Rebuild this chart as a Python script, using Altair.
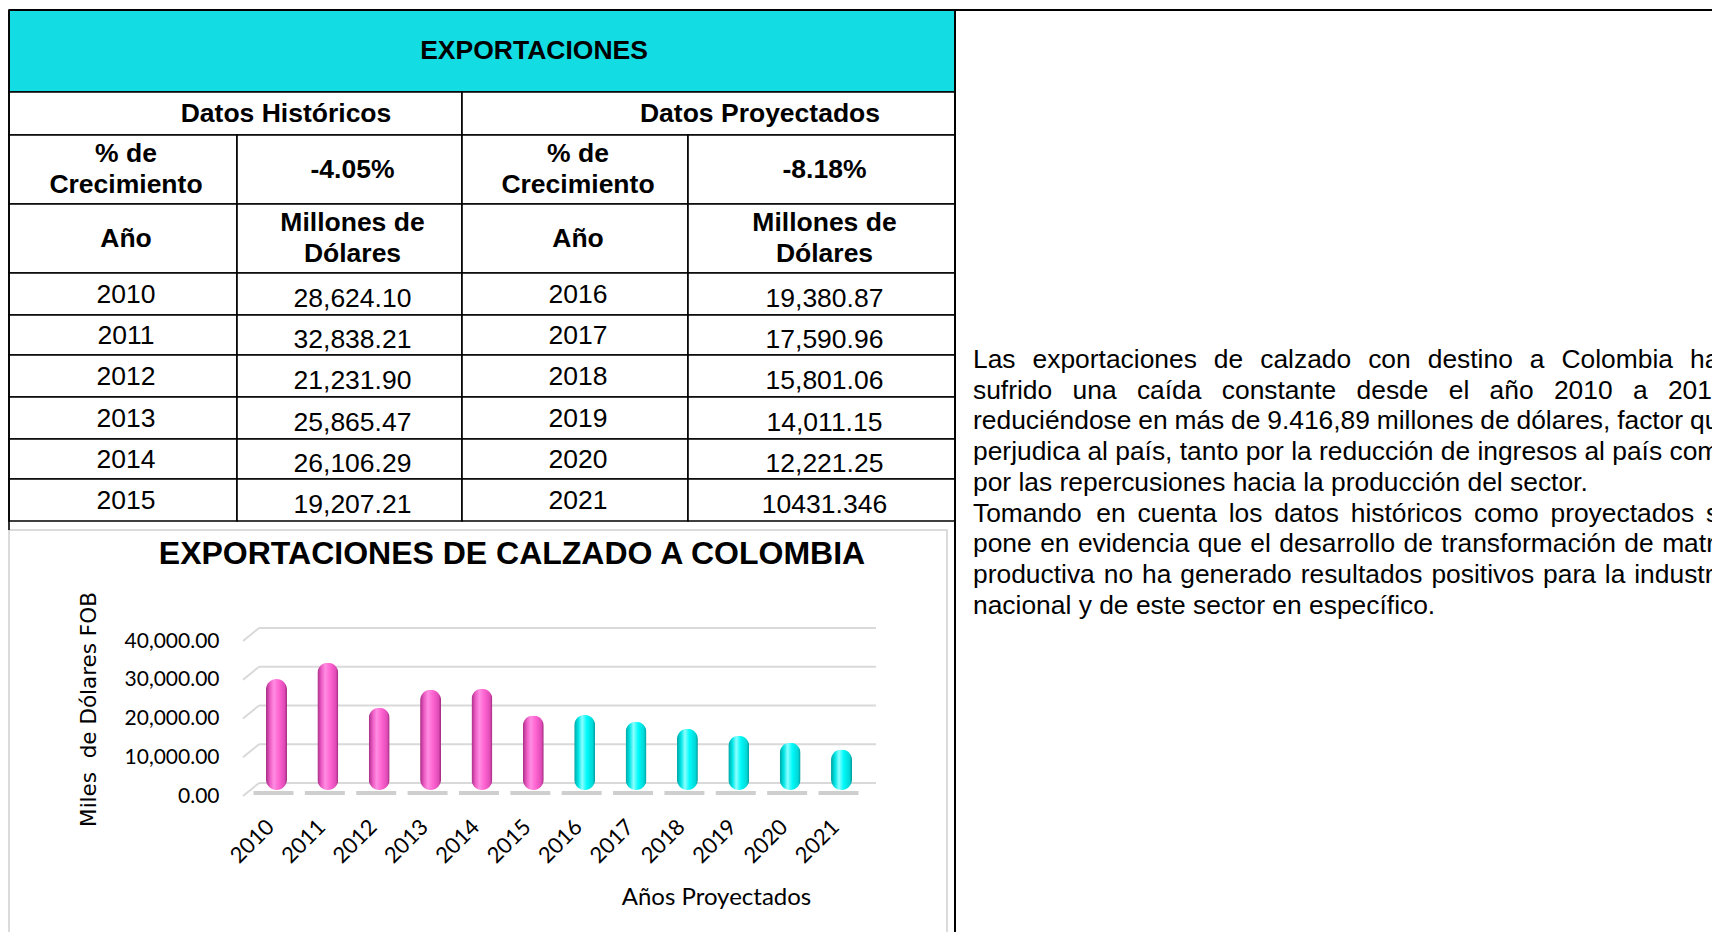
import altair as alt
import pandas as pd

# ---------------- data ----------------
years = ["2010", "2011", "2012", "2013", "2014", "2015",
         "2016", "2017", "2018", "2019", "2020", "2021"]
values = [28624.10, 32838.21, 21231.90, 25865.47, 26106.29, 19207.21,
          19380.87, 17590.96, 15801.06, 14011.15, 12221.25, 10431.346]
tipo = ["Histórico"] * 6 + ["Proyectado"] * 6

hist_years = ["2010", "2011", "2012", "2013", "2014", "2015"]
hist_values_txt = ["28,624.10", "32,838.21", "21,231.90", "25,865.47", "26,106.29", "19,207.21"]
proj_years = ["2016", "2017", "2018", "2019", "2020", "2021"]
proj_values_txt = ["19,380.87", "17,590.96", "15,801.06", "14,011.15", "12,221.25", "10431.346"]
growth_hist = "-4.05%"
growth_proj = "-8.18%"

y_ticks = [0, 10000, 20000, 30000, 40000]

table_title = "EXPORTACIONES"
group_titles = ["Datos Históricos", "Datos Proyectados"]
growth_label = "% de\nCrecimiento"
col_year = "Año"
col_value = "Millones de\nDólares"

chart_title = "EXPORTACIONES DE CALZADO A COLOMBIA"
y_title = "Miles\u00a0 de Dólares FOB"
x_title = "Años Proyectados"

para1 = ["Las exportaciones de calzado con destino a Colombia han",
         "sufrido una caída constante desde el año 2010 a 2015,",
         "reduciéndose en más de 9.416,89 millones de dólares, factor que",
         "perjudica al país, tanto por la reducción de ingresos al país como",
         "por las repercusiones hacia la producción del sector."]
para2 = ["Tomando en cuenta los datos históricos como proyectados se",
         "pone en evidencia que el desarrollo de transformación de matriz",
         "productiva no ha generado resultados positivos para la industria",
         "nacional y de este sector en específico."]

# ---------------- layout (pixels) ----------------
W, H = 1704, 924
COLS = [1, 229, 454, 680, 947]
ROWS = [2, 84, 127, 196, 265, 307, 347, 389, 431, 471, 513]
FONT = "Liberation Sans"
FS = 26.5
LH = 30.7

PX = alt.Scale(domain=[0, W], range=[0, W], nice=False, zero=False)
PY = alt.Scale(domain=[0, H], range=[0, H], nice=False, zero=False)

def cx(c0, c1):
    return (COLS[c0] + COLS[c1]) / 2 + 3

def cy(r):
    return (ROWS[r] + ROWS[r + 1]) / 2

# cells
cells = [dict(x=COLS[0], x2=COLS[4], y=ROWS[0], y2=ROWS[1], fill="#13DDE3"),
         dict(x=COLS[0], x2=COLS[2], y=ROWS[1], y2=ROWS[2], fill="white"),
         dict(x=COLS[2], x2=COLS[4], y=ROWS[1], y2=ROWS[2], fill="white")]
for r in range(2, 10):
    for c in range(4):
        cells.append(dict(x=COLS[c], x2=COLS[c + 1], y=ROWS[r], y2=ROWS[r + 1], fill="white"))
cells_df = pd.DataFrame(cells)

two = -LH / 2  # shift for two-line labels so the block is centred
bold_txt = [dict(t=table_title, x=526, y=cy(0)),
            dict(t=group_titles[0], x=278, y=cy(1)),
            dict(t=group_titles[1], x=752, y=cy(1)),
            dict(t=growth_label, x=cx(0, 1), y=cy(2) + two),
            dict(t=growth_hist, x=cx(1, 2), y=cy(2)),
            dict(t=growth_label, x=cx(2, 3), y=cy(2) + two),
            dict(t=growth_proj, x=cx(3, 4), y=cy(2)),
            dict(t=col_year, x=cx(0, 1), y=cy(3)),
            dict(t=col_value, x=cx(1, 2), y=cy(3) + two),
            dict(t=col_year, x=cx(2, 3), y=cy(3)),
            dict(t=col_value, x=cx(3, 4), y=cy(3) + two)]
bold_df = pd.DataFrame(bold_txt)

norm_txt = []
for i in range(6):
    r = 4 + i
    norm_txt.append(dict(t=hist_years[i], x=cx(0, 1), y=cy(r) + 1))
    norm_txt.append(dict(t=hist_values_txt[i], x=cx(1, 2), y=cy(r) + 5))
    norm_txt.append(dict(t=proj_years[i], x=cx(2, 3), y=cy(r) + 1))
    norm_txt.append(dict(t=proj_values_txt[i], x=cx(3, 4), y=cy(r) + 5))
norm_df = pd.DataFrame(norm_txt)

# paragraph with justification (Arial / Liberation Sans metrics)
AW = {'a': 556, 'b': 556, 'c': 500, 'd': 556, 'e': 556, 'f': 278, 'g': 556, 'h': 556,
      'i': 222, 'j': 222, 'k': 500, 'l': 222, 'm': 833, 'n': 556, 'o': 556, 'p': 556,
      'q': 556, 'r': 333, 's': 500, 't': 278, 'u': 556, 'v': 500, 'w': 722, 'x': 500,
      'y': 500, 'z': 500, 'á': 556, 'é': 556, 'í': 278, 'ó': 556, 'ú': 556, 'ñ': 556,
      'C': 722, 'L': 556, 'T': 611, ',': 278, '.': 278, ' ': 278}
PFS = 26.4

def tw(s):
    return sum(AW.get(ch, 556) for ch in s) * PFS / 1000.0

P_LEFT, P_RIGHT, P_TOP, P_LH = 965, 1726, 352, 30.7
lines = para1 + para2
just = [True, True, True, True, False, True, True, True, False]
words = []
for i, (ln, j) in enumerate(zip(lines, just)):
    ws = ln.split(" ")
    wd = [tw(w) for w in ws]
    gap = (P_RIGHT - P_LEFT - sum(wd)) / (len(ws) - 1) if j else tw(" ")
    xpos = P_LEFT
    for w, d in zip(ws, wd):
        words.append(dict(t=w, x=xpos, y=P_TOP + i * P_LH))
        xpos += d + gap
words_df = pd.DataFrame(words)

one = pd.DataFrame({"t": [chart_title]})

# ---------------- bar chart ----------------
bars_df = pd.DataFrame({"year": years, "value": values, "tipo": tipo})
ticks_df = pd.DataFrame({"v": y_ticks})
XB = alt.Scale(domain=years, range=[242.8, 859.2], paddingInner=0, paddingOuter=0)
YB = alt.Scale(domain=[0, 40000], range=[782, 627], nice=False)

pink = alt.Gradient(gradient="linear", x1=0, x2=1, y1=0, y2=0, stops=[
    alt.GradientStop(offset=0, color="#A82B86"),
    alt.GradientStop(offset=0.2, color="#EE5EC6"),
    alt.GradientStop(offset=0.38, color="#FF8DE2"),
    alt.GradientStop(offset=0.6, color="#FF66D2"),
    alt.GradientStop(offset=0.88, color="#E04BB8"),
    alt.GradientStop(offset=1, color="#9C2878")])
cyan = alt.Gradient(gradient="linear", x1=0, x2=1, y1=0, y2=0, stops=[
    alt.GradientStop(offset=0, color="#00A3A3"),
    alt.GradientStop(offset=0.2, color="#00E6E6"),
    alt.GradientStop(offset=0.38, color="#8CFFFF"),
    alt.GradientStop(offset=0.6, color="#00FAFA"),
    alt.GradientStop(offset=0.88, color="#00D6D6"),
    alt.GradientStop(offset=1, color="#009A9A")])

x_axis = alt.Axis(labelAngle=315, labelAlign="right", labelBaseline="middle",
                  labelFont="Lato", labelFontSize=22, labelColor="black",
                  ticks=False, tickSize=0, domain=False, grid=False,
                  labelPadding=5, labelOffset=-6, labelOverlap=False, zindex=2,
                  offset=810 - H, title=x_title, titleFont="Lato", titleFontSize=24,
                  titleFontWeight="normal", titleColor="black", titleX=708,
                  titleY=79, titleAlign="center", titleBaseline="middle")
y_axis = alt.Axis(values=y_ticks, format=",.2f", labelFont="Lato", labelFontSize=21,
                  labelColor="black", ticks=False, tickSize=0, domain=False, grid=False,
                  labelPadding=5, labelOffset=6, offset=-216, zindex=2, title=y_title,
                  titleFont="DejaVu Sans", titleFontSize=21.5, titleFontWeight="normal",
                  titleColor="black", titleAngle=270, titleX=81 - 216, titleY=701,
                  titleAlign="center", titleBaseline="middle")

frame = alt.Chart(one).mark_rect(fillOpacity=0, stroke="#D0D0D0", strokeWidth=1.5).encode(
    x=alt.value(1), x2=alt.value(939), y=alt.value(522), y2=alt.value(935))

grid = alt.Chart(ticks_df).mark_rule(color="#D9D9D9", strokeWidth=2, yOffset=-7).encode(
    y=alt.Y("v:Q", scale=YB, axis=None), x=alt.value(251), x2=alt.value(868))
diag = alt.Chart(ticks_df).mark_rule(color="#D9D9D9", strokeWidth=2, yOffset=6, y2Offset=-7).encode(
    y=alt.Y("v:Q", scale=YB, axis=None), y2="v:Q", x=alt.value(235), x2=alt.value(251))

shadow = alt.Chart(bars_df).mark_tick(size=40, thickness=4, color="#606060", opacity=0.3,
                                      yOffset=3, xOffset=-3).encode(
    x=alt.X("year:N", scale=XB, axis=None),
    y=alt.Y("zero:Q", scale=YB, axis=None)).transform_calculate(zero="0")

bars_h = alt.Chart(bars_df).transform_filter(alt.datum.tipo == "Histórico").mark_bar(
    width=21, cornerRadius=10.5, color=pink).encode(
    x=alt.X("year:N", scale=XB, axis=x_axis),
    y=alt.Y("value:Q", scale=YB, axis=y_axis))
bars_p = alt.Chart(bars_df).transform_filter(alt.datum.tipo == "Proyectado").mark_bar(
    width=21, cornerRadius=10.5, color=cyan).encode(
    x=alt.X("year:N", scale=XB, axis=None),
    y=alt.Y("value:Q", scale=YB, axis=None))

title = alt.Chart(one).mark_text(font=FONT, fontSize=32, fontWeight="bold", color="black",
                                 align="center", baseline="middle").encode(
    x=alt.value(504), y=alt.value(546), text="t:N")

# ---------------- table ----------------
cell_marks = alt.Chart(cells_df).mark_rect(stroke="black", strokeWidth=1.6).encode(
    x=alt.X("x:Q", scale=PX, axis=None), x2="x2:Q",
    y=alt.Y("y:Q", scale=PY, axis=None), y2="y2:Q",
    fill=alt.Fill("fill:N", scale=None))

bold_marks = alt.Chart(bold_df).mark_text(font=FONT, fontSize=FS, fontWeight="bold",
                                          color="black", lineBreak="\n", lineHeight=LH,
                                          align="center", baseline="middle").encode(
    x=alt.X("x:Q", scale=PX, axis=None), y=alt.Y("y:Q", scale=PY, axis=None), text="t:N")
norm_marks = alt.Chart(norm_df).mark_text(font=FONT, fontSize=FS, color="black",
                                          align="center", baseline="middle").encode(
    x=alt.X("x:Q", scale=PX, axis=None), y=alt.Y("y:Q", scale=PY, axis=None), text="t:N")

para_marks = alt.Chart(words_df).mark_text(font=FONT, fontSize=PFS, color="black",
                                           align="left", baseline="middle").encode(
    x=alt.X("x:Q", scale=PX, axis=None), y=alt.Y("y:Q", scale=PY, axis=None), text="t:N")

top_line = alt.Chart(one).mark_rule(color="black", strokeWidth=2).encode(
    x=alt.value(1), x2=alt.value(W), y=alt.value(2))
vert_line = alt.Chart(one).mark_rule(color="black", strokeWidth=2).encode(
    x=alt.value(947), y=alt.value(2), y2=alt.value(H))
left_line = alt.Chart(one).mark_rule(color="black", strokeWidth=1.6).encode(
    x=alt.value(1), y=alt.value(2), y2=alt.value(522))

chart = alt.layer(
    frame, cell_marks, bold_marks, norm_marks, left_line,
    grid, diag, shadow, bars_h, bars_p, title,
    para_marks, top_line, vert_line
).resolve_scale(x="independent", y="independent").properties(
    width=W, height=H, padding=0,
    autosize=alt.AutoSizeParams(type="none"),
    background="white"
).configure_view(strokeWidth=0)

chart.save("out.html", embed_options={"renderer": "svg", "actions": False})
